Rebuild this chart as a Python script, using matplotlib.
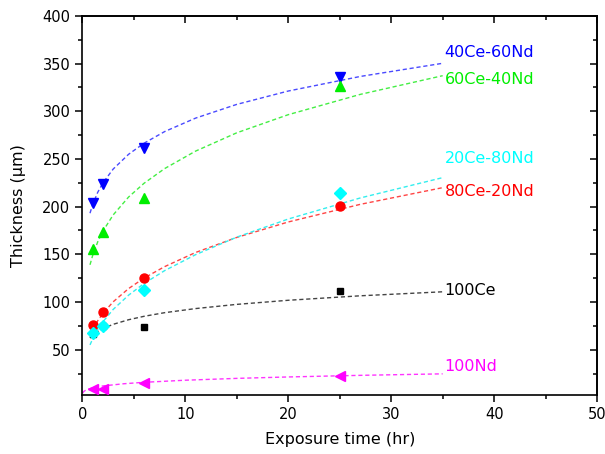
import matplotlib
matplotlib.use("Agg")
import matplotlib.pyplot as plt
from matplotlib.ticker import MultipleLocator

plt.rcParams['font.family'] = ['DejaVu Sans']

# measured points
t = [1, 2, 6, 25]
th_40ce = [204, 224, 261, 336]
th_60ce = [156, 173, 209, 327]
th_20ce = [67, 75, 113, 214]
th_80ce = [76, 90, 125, 201]
th_100ce = [66, 75, 74, 112]
th_100nd = [9, 9, 15, 22]

# dashed trend curves
t_fit = [0.75, 1, 1.5, 2, 3, 4.5, 6, 8, 11, 15, 20, 27, 35]
fit_40ce = [193.1, 201.9, 215.0, 224.8, 239.4, 254.9, 266.5, 278.7, 292.8, 307.2, 321.2, 336.5, 350.3]
fit_60ce = [139.0, 148.5, 163.1, 174.2, 191.3, 210.1, 224.5, 239.9, 258.2, 277.4, 296.4, 317.7, 337.3]
fit_20ce = [55.0, 61.2, 71.2, 79.2, 92.2, 107.2, 119.4, 132.9, 149.6, 168.0, 187.0, 209.1, 230.4]
fit_80ce = [64.3, 70.5, 80.3, 88.0, 100.2, 114.1, 125.1, 137.1, 151.9, 167.7, 183.9, 202.4, 219.9]
fit_100ce = [62.3, 65.0, 69.1, 72.1, 76.6, 81.4, 85.0, 88.8, 93.1, 97.5, 101.8, 106.5, 110.7]
t_fit_nd = [0.04, 0.15, 0.4, 1, 2, 4, 6, 10, 15, 20, 27, 35]
fit_100nd = [4.45, 6.22, 7.96, 10.04, 11.96, 14.25, 15.79, 17.97, 19.91, 21.40, 23.09, 24.66]

labels = ['40Ce-60Nd', '60Ce-40Nd', '20Ce-80Nd', '80Ce-20Nd', '100Ce', '100Nd']
label_y = [362, 333, 250, 216, 112, 32]

fig = plt.figure(figsize=(6.05, 4.54), dpi=100)
ax = fig.add_axes([0.136, 0.130, 0.851, 0.835])

series = [
    (th_40ce, t_fit, fit_40ce, '#0000ff', '#4a4aff', 'v', 7.5),
    (th_60ce, t_fit, fit_60ce, '#00ee00', '#44ee44', '^', 7.5),
    (th_20ce, t_fit, fit_20ce, '#00ffff', '#33eeee', 'D', 6),
    (th_80ce, t_fit, fit_80ce, '#ff0000', '#ff4444', 'o', 6.5),
    (th_100ce, t_fit, fit_100ce, '#000000', '#444444', 's', 5),
    (th_100nd, t_fit_nd, fit_100nd, '#ff00ff', '#ff33ff', '<', 7.5),
]

# black square first so cyan diamonds sit on top like in the original
order = [4, 0, 1, 3, 2, 5]
for i in order:
    y, tx, fy, c, lc, m, ms = series[i]
    ax.plot(tx, fy, color=lc, lw=1.0, dashes=(3, 2), zorder=2)
    ax.plot(t, y, ls='none', marker=m, ms=ms, color=c, mec=c, zorder=3)
    ax.text(35.2, label_y[i], labels[i], color=c, fontsize=11.5, va='center', ha='left')

ax.set_xlim(0, 50)
ax.set_ylim(2.5, 400)
ax.xaxis.set_major_locator(MultipleLocator(10))
ax.xaxis.set_minor_locator(MultipleLocator(5))
ax.yaxis.set_minor_locator(MultipleLocator(25))
ax.set_yticks([50, 100, 150, 200, 250, 300, 350, 400])

ax.tick_params(which='both', direction='out', width=1.1, labelsize=10.5)
ax.tick_params(which='major', length=5)
ax.tick_params(which='minor', length=3)

# top and right axes carry inward ticks, no labels
top = ax.secondary_xaxis('top')
top.xaxis.set_major_locator(MultipleLocator(10))
top.xaxis.set_minor_locator(MultipleLocator(5))
top.tick_params(which='both', direction='in', labeltop=False, width=1.1)
top.tick_params(which='major', length=5)
top.tick_params(which='minor', length=3)
right = ax.secondary_yaxis('right')
right.yaxis.set_major_locator(MultipleLocator(50))
right.yaxis.set_minor_locator(MultipleLocator(25))
right.tick_params(which='both', direction='in', labelright=False, width=1.1)
right.tick_params(which='major', length=5)
right.tick_params(which='minor', length=3)

for sp in list(ax.spines.values()) + [top.spines['top'], right.spines['right']]:
    sp.set_linewidth(1.2)

ax.set_xlabel('Exposure time (hr)', fontsize=11.5, labelpad=7)
ax.set_ylabel('Thickness (\u03bcm)', fontsize=11.5, labelpad=12)

fig.savefig('out.png', dpi=100)
